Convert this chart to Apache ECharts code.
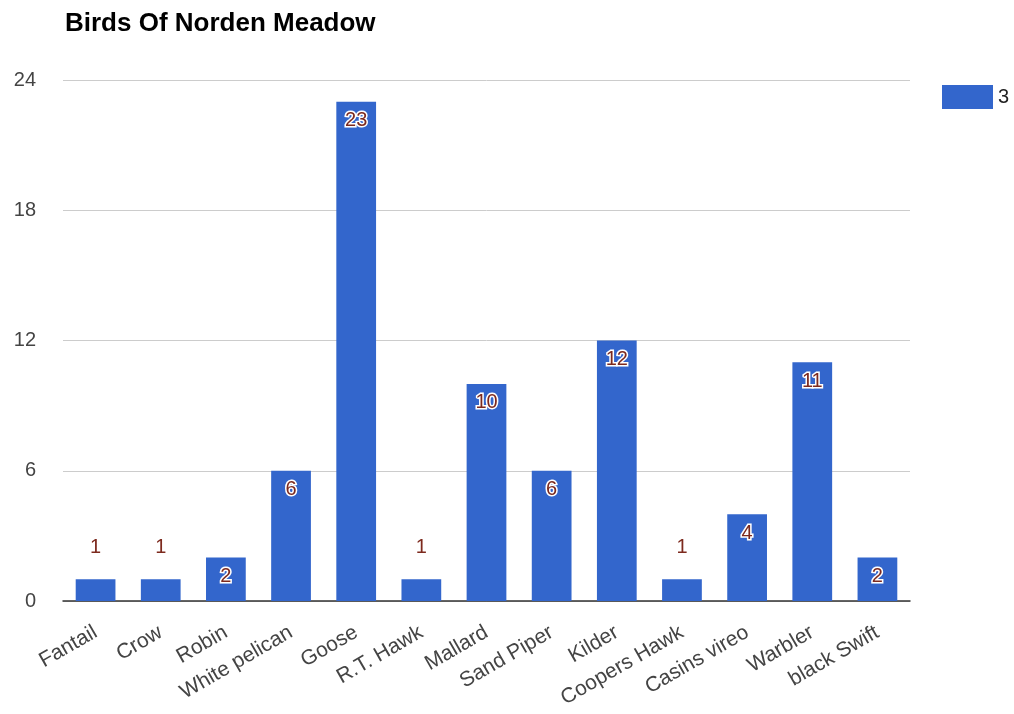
<!DOCTYPE html>
<html>
<head>
<meta charset="utf-8">
<script src="https://cdn.jsdelivr.net/npm/echarts@6/dist/echarts.min.js"></script>
<style>html,body{margin:0;padding:0;background:#fff;}#c{width:1014px;height:714px;}</style>
</head>
<body>
<div id="c"></div>
<script>
var titleText = 'Birds Of Norden Meadow';
var seriesName = '3';
var categories = ['Fantail', 'Crow', 'Robin', 'White pelican', 'Goose', 'R.T. Hawk', 'Mallard', 'Sand Piper', 'Kilder', 'Coopers Hawk', 'Casins vireo', 'Warbler', 'black Swift'];
var values = [1, 1, 2, 6, 23, 1, 10, 6, 12, 1, 4, 11, 2];
var yTicks = [0, 6, 12, 18, 24];

var chart = echarts.init(document.getElementById('c'), null, {renderer: 'canvas'});
var labelColor = '#7d2a1e';
var data = values.map(function (v) {
  var small = v < 2;
  return {
    value: v,
    label: small ? {position: 'top', distance: 22, textBorderWidth: 0} : {position: 'insideTop', distance: 9}
  };
});
chart.setOption({
  animation: false,
  title: {
    text: titleText, left: 60, top: 6,
    textStyle: {fontFamily: 'Liberation Sans', fontWeight: 'bold', fontSize: 26, color: '#000'}
  },
  legend: {
    data: [seriesName], left: 937, top: 80, itemWidth: 51, itemHeight: 24, itemGap: 8,
    icon: 'rect',
    textStyle: {fontFamily: 'Liberation Sans', fontSize: 20, color: '#222'}
  },
  grid: {left: 63, right: 104, top: 80, bottom: 113},
  xAxis: {
    type: 'category', data: categories,
    axisTick: {show: false},
    axisLine: {lineStyle: {color: '#333', width: 1.5}},
    axisLabel: {rotate: 30, interval: 0, margin: 30, fontFamily: 'Liberation Sans', fontSize: 21, color: '#444'}
  },
  yAxis: {
    type: 'value', min: yTicks[0], max: yTicks[yTicks.length - 1], interval: 6,
    axisLine: {show: false}, axisTick: {show: false},
    splitLine: {lineStyle: {color: '#cccccc', width: 1}},
    axisLabel: {margin: 27, fontFamily: 'Liberation Sans', fontSize: 20, color: '#444'}
  },
  series: [{
    name: seriesName, type: 'bar', data: data, barWidth: '61%',
    itemStyle: {color: '#3366cc'},
    label: {
      show: true, fontFamily: 'Liberation Sans', fontSize: 20, color: labelColor,
      textBorderColor: '#fff', textBorderWidth: 3
    }
  }]
});
</script>
</body>
</html>
